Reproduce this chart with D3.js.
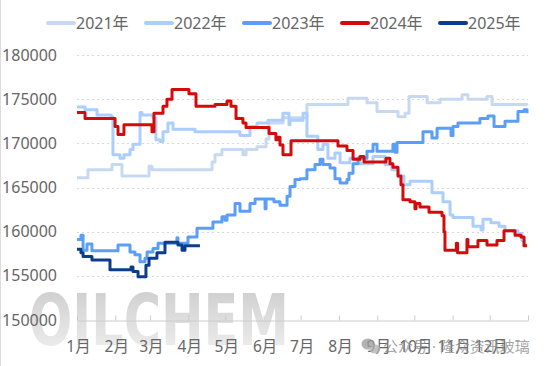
<!DOCTYPE html>
<html>
<head>
<meta charset="utf-8">
<script src="https://cdn.jsdelivr.net/npm/d3@7/dist/d3.min.js"></script>
<style>
  html, body { margin: 0; padding: 0; background: #ffffff; }
  svg { display: block; }
  text { font-family: "Noto Sans", "Noto Sans CJK SC", sans-serif; }
</style>
</head>
<body>
<svg id="chart" width="554" height="366"></svg>
<script>
// ---------------- data ----------------
const monthLabels = ["1月","2月","3月","4月","5月","6月","7月","8月","9月","10月","11月","12月",""];
const monthStartDays = [0,31,59,90,120,151,181,212,243,273,304,334,365];
const yTicks = [150000,155000,160000,165000,170000,175000,180000];
const seriesNames = ["2021年","2022年","2023年","2024年","2025年"];
const seriesColors = ["#c6d9f1","#abcefc","#5a9ef8","#d30b0b","#0c3c8c"];

// step points: day of year where a price level starts, and that price
const days2021 = [0,8.9,28.3,36.4,58.3,60.7,109.3,111.7,117.3,134.3,136.8,145.7,153,155.4,166.7,186.1,219.3,234.7,242.8,259.8,265.5,268.7,283.3,293.8,311.6,316.4,331.8,335.9,364.2];
const values2021 = [166100,167000,167600,166300,167400,167000,167900,168700,169300,168700,169300,169600,170500,172300,172900,174400,175100,174600,173600,173000,173400,175300,174600,175000,175500,175000,175300,174400,174300];

const days2022 = [0,6.5,16.2,27.5,29.1,34.8,38,42.9,45.3,51,52.6,61.5,63.9,67.2,69.6,73.6,77.7,95.5,131.9,140,145.7,154.6,166.7,171.6,172.4,182.9,186.1,194.9,199.1,203.1,208.8,212.9,220.9,229,239.6,249.3,254.9,259.8,264.6,269.5,287.3,296.2,301.9,304.3,320.5,327,328.6,335,341.5,346.4,356.9,360.1,361.8,364.2];
const values2022 = [174100,173800,173200,173000,168700,168300,168700,169300,169900,173500,173200,172900,170400,170200,171300,172300,171600,171300,170900,171900,172300,172600,173400,172100,172600,173400,170800,169300,169900,168300,168900,167800,168300,167700,168500,167600,167000,166300,165300,165700,164400,163400,161900,161600,160600,160200,161400,161000,160600,160100,159800,159000,158500,158500];

const days2023 = [0,3.2,4.9,8.1,12.1,33.2,42.9,46.9,51,55,56.7,61.5,65.6,80.9,81.7,89.8,97.1,110,117.3,119.8,121.4,127.9,131.9,140,144.1,152.2,153,159.4,164.3,170,172.4,176.4,180.5,186.1,192.6,196.7,199.1,204.8,208.8,212.9,218.5,220.1,223.4,227.4,234.7,239.6,242.8,255.7,257.4,259,280,287.3,291.4,302.7,304.3,308.3,326.1,332.6,337.5,346.4,356.9,361.8,364.2];
const values2023 = [159100,159600,157900,158600,157850,158500,157700,157400,156600,157000,157700,158100,158700,159300,158700,159400,160400,161100,161700,161300,161900,163200,162300,163200,163700,162600,163700,163400,163000,164000,165100,165900,166000,167000,167600,168200,167600,167200,166000,165500,165900,166600,167700,168300,169100,169900,169100,169900,169000,170100,171300,170600,171700,170900,171900,172300,172800,173100,171900,172500,173600,173800,173400];

const days2024 = [0,6.5,30.8,33.2,38,60.7,62.3,69.6,72.8,76.9,90.6,96.3,111.7,121.4,124.6,128.7,134.3,136.8,155.4,161,162.7,164.3,166.7,173.2,211.2,218.5,223.4,229,232.3,250.1,253.3,255.7,259.8,262.2,263.8,269.5,273.5,274.4,277.6,284.9,295.4,297,297.8,307,308,315.6,316.4,324.5,331.8,339.9,345.6,354.5,359.3,361.8,364.2];
const values2024 = [173500,172800,171900,171000,172100,171300,173400,174200,175000,176100,175600,174200,174400,174800,174200,172800,172300,171800,171100,170400,170700,169800,168700,170300,169700,169200,168200,168500,167900,168300,167700,167300,166300,165300,163600,163400,162600,163200,162800,162200,161800,160000,157900,158700,157600,159100,158300,159000,158500,159000,160100,159600,159400,158400,158400];

const days2025 = [0,3.2,4.9,12.1,26.7,43.7,45.3,49.4,55.8,58.3,64.7,71.2,81.7,85,87.4,99.5];
const values2025 = [158000,157600,157200,156800,155700,156000,155500,154900,156200,157000,157600,158800,158500,157900,158400,158400];

const allDays = [days2021, days2022, days2023, days2024, days2025];
const allValues = [values2021, values2022, values2023, values2024, values2025];

// ---------------- layout ----------------
const svg = d3.select("#chart");
const x = d3.scaleLinear().domain([0, 365]).range([77, 528]);
const y = d3.scaleLinear().domain([150000, 180000]).range([320, 55]);

// left border
svg.append("line").attr("x1",0.5).attr("x2",0.5).attr("y1",0).attr("y2",366)
  .attr("stroke","#dcdcdc").attr("stroke-width",1);

// watermark OILCHEM
const defs = svg.append("defs");
const grad = defs.append("linearGradient").attr("id","wm").attr("x1",0).attr("y1",0).attr("x2",0).attr("y2",1);
grad.append("stop").attr("offset","0%").attr("stop-color","#c4c4c4");
grad.append("stop").attr("offset","100%").attr("stop-color","#f2f2f2");
svg.append("text")
  .attr("x", 29).attr("y", 345)
  .attr("font-size", 72).attr("font-weight", "bold")
  .attr("textLength", 260).attr("lengthAdjust", "spacingAndGlyphs")
  .style("font-family", "'DejaVu Sans', 'Liberation Sans', sans-serif")
  .attr("fill", "url(#wm)").attr("opacity", 0.9)
  .text("OILCHEM");

// grid lines
svg.append("g").selectAll("line").data(yTicks.filter(v => v > 150000)).join("line")
  .attr("x1", x(0)).attr("x2", x(365))
  .attr("y1", d => Math.round(y(d)) + 0.5).attr("y2", d => Math.round(y(d)) + 0.5)
  .attr("stroke", "#d9d9d9").attr("stroke-dasharray", "2,3").attr("stroke-width", 1);

// y labels
svg.append("g").selectAll("text").data(yTicks).join("text")
  .attr("x", 57).attr("y", d => y(d)).attr("dy", "0.35em")
  .attr("text-anchor", "end").attr("font-size", 16).attr("fill", "#666")
  .text(d => d);

// x axis
const xAxis = d3.axisBottom(x)
  .tickValues(monthStartDays)
  .tickSizeInner(-5).tickSizeOuter(0).tickPadding(20)
  .tickFormat((d, i) => monthLabels[i]);
const gx = svg.append("g").attr("transform", `translate(0,${Math.round(y(150000)) + 0.5})`).call(xAxis);
gx.select(".domain").attr("stroke", "#cccccc");
gx.selectAll(".tick line").attr("stroke", "#cccccc");
gx.selectAll(".tick text").attr("font-size", 15.5).attr("fill", "#666")
  .style("font-family", "'Noto Sans', 'Noto Sans CJK SC', sans-serif")
  .attr("dx", 1);

// lines
const line = d3.line().curve(d3.curveStepAfter)
  .x(d => x(d[0])).y(d => y(d[1]));
const gLines = svg.append("g");
allDays.forEach((ds, i) => {
  const pts = ds.map((d, j) => [d, allValues[i][j]]);
  gLines.append("path").datum(pts)
    .attr("fill", "none").attr("stroke", seriesColors[i])
    .attr("stroke-width", 3).attr("stroke-linejoin", "round")
    .attr("d", line);
});

// legend
const lg = svg.append("g");
seriesNames.forEach((name, i) => {
  const lx = 48 + i * 98;
  lg.append("line").attr("x1", lx).attr("x2", lx + 26).attr("y1", 23).attr("y2", 23)
    .attr("stroke", seriesColors[i]).attr("stroke-width", 4).attr("stroke-linecap", "round");
  lg.append("text").attr("x", lx + 28).attr("y", 23).attr("dy", "0.35em")
    .attr("font-size", 16).attr("fill", "#666").text(name);
});

// wechat watermark
const wm = svg.append("g").attr("opacity", 0.75);
wm.append("ellipse").attr("cx", 368).attr("cy", 344).attr("rx", 6.5).attr("ry", 5.5).attr("fill", "#9a9a9a");
wm.append("ellipse").attr("cx", 375).attr("cy", 349).attr("rx", 5.5).attr("ry", 4.5).attr("fill", "#b0b0b0");
wm.append("text").attr("x", 383).attr("y", 347).attr("dy", "0.35em")
  .attr("font-size", 15).attr("fill", "#8a8a8a").text("公众号 · 隆众资讯玻璃");
</script>
</body>
</html>
